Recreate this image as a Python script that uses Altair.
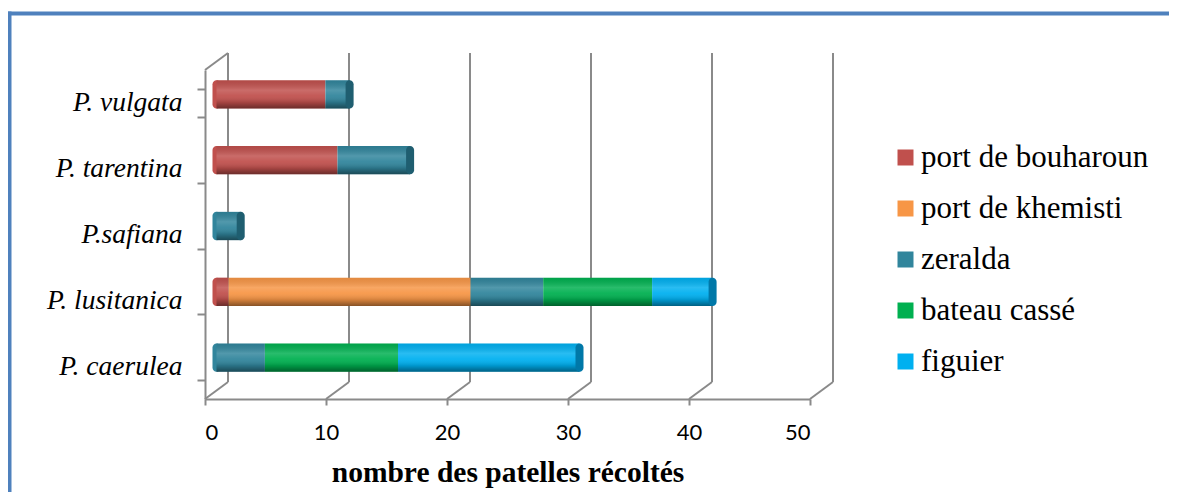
import altair as alt
import pandas as pd

# ---- data ----
categories = ["P. vulgata", "P. tarentina", "P.safiana", "P. lusitanica", "P. caerulea"]
series_names = ["port de bouharoun", "port de khemisti", "zeralda", "bateau cassé", "figuier"]
port_de_bouharoun = [9, 10, 0, 1, 0]
port_de_khemisti = [0, 0, 0, 20, 0]
zeralda = [2, 6, 2, 6, 4]
bateau_casse = [0, 0, 0, 9, 11]
figuier = [0, 0, 0, 5, 15]
x_ticks = [0, 10, 20, 30, 40, 50]

series_colors = ["#c0504d", "#f79646", "#31859c", "#00b050", "#00b0f0"]
cap_colors = ["#8c3a38", "#b86e30", "#1f5e70", "#007a3c", "#0078a8"]

series_values = [port_de_bouharoun, port_de_khemisti, zeralda, bateau_casse, figuier]

rows = []
tot_rows = []
for i, cat in enumerate(categories):
    first = None
    last = None
    total = 0
    for j, s in enumerate(series_names):
        v = series_values[j][i]
        if v > 0:
            rows.append({"cat": cat, "serie": s, "value": v, "ord": j})
            if first is None:
                first = s
            last = s
            total += v
    tot_rows.append({"cat": cat, "serie": first, "last": last, "total": total, "zero": 0})
df = pd.DataFrame(rows)
tot = pd.DataFrame(tot_rows)
ticks = pd.DataFrame({"t": x_ticks})
origin = pd.DataFrame({"t": [0]})

W, H = 605, 329
DX, DY = 11.5, -8.5   # half depth of the 3D floor
GRAY = "#8a8a8a"

xscale = alt.Scale(domain=[0, 50], nice=False, zero=True)
xaxis = alt.Axis(values=x_ticks, title="nombre des patelles récoltés", grid=False,
                 titleFont="Liberation Serif", titleFontWeight="bold", titleFontSize=29.5,
                 titleColor="black", titlePadding=15,
                 labelFont="Lato", labelFontSize=22, labelColor="black", labelPadding=17,
                 tickSize=6, tickColor=GRAY, tickWidth=2, domainColor=GRAY, domainWidth=2)
yscale = alt.Scale(domain=categories, paddingInner=0.57, paddingOuter=0.285)
yaxis = alt.Axis(title=None, grid=False, tickBand="extent", tickSize=8, tickColor=GRAY,
                 tickWidth=2, domainColor=GRAY, domainWidth=2,
                 labelFont="Liberation Serif", labelFontStyle="italic", labelFontSize=27.5,
                 labelColor="black", labelPadding=15)

X = lambda f: alt.X(f, scale=xscale, axis=xaxis)
Y = alt.Y("cat:N", scale=yscale, axis=yaxis, sort=categories)

# back wall gridlines
grid_back = alt.Chart(ticks).mark_rule(color=GRAY, strokeWidth=2, xOffset=2 * DX,
                                        yOffset=2 * DY, y2Offset=2 * DY).encode(
    x=X("t:Q"), y=alt.value(0), y2=alt.value(H))
# floor diagonals
diag = alt.Chart(ticks).mark_rule(color=GRAY, strokeWidth=2, x2Offset=2 * DX).encode(
    x=X("t:Q"), x2="t:Q", y=alt.value(H), y2=alt.value(H + 2 * DY))
# top-left diagonal of the side wall
diag_top = alt.Chart(origin).mark_rule(color=GRAY, strokeWidth=2, x2Offset=2 * DX).encode(
    x=X("t:Q"), x2="t:Q", y=alt.value(0), y2=alt.value(2 * DY))

# rounded start of each cylinder
left_cap = alt.Chart(tot).mark_bar(xOffset=DX - 4, x2Offset=DX + 4, yOffset=DY, y2Offset=DY,
                                   cornerRadius=4).encode(
    x=X("zero:Q"), x2="zero:Q", y=Y,
    color=alt.Color("serie:N", scale=alt.Scale(domain=series_names, range=series_colors),
                    legend=None))

bars = alt.Chart(df).mark_bar(xOffset=DX, x2Offset=DX, yOffset=DY, y2Offset=DY).encode(
    x=alt.X("value:Q", stack="zero", scale=xscale, axis=xaxis),
    y=Y,
    color=alt.Color("serie:N", scale=alt.Scale(domain=series_names, range=series_colors),
                    legend=alt.Legend(title=None, orient="none", legendX=685, legendY=72,
                                      padding=0, rowPadding=19, labelOffset=0,
                                      symbolType="square", symbolSize=256,
                                      symbolStrokeWidth=0, labelFont="Liberation Serif",
                                      labelFontSize=31, labelColor="black", labelLimit=400)),
    order=alt.Order("ord:Q"))

shade = alt.Gradient(gradient="linear", x1=0, y1=0, x2=0, y2=1, stops=[
    alt.GradientStop(color="rgba(0,0,0,0.08)", offset=0),
    alt.GradientStop(color="rgba(255,255,255,0.16)", offset=0.35),
    alt.GradientStop(color="rgba(255,255,255,0.06)", offset=0.55),
    alt.GradientStop(color="rgba(0,0,0,0.14)", offset=0.78),
    alt.GradientStop(color="rgba(0,0,0,0.45)", offset=1)])
overlay = alt.Chart(tot).mark_bar(color=shade, xOffset=DX, x2Offset=DX, yOffset=DY,
                                  y2Offset=DY).encode(x=X("zero:Q"), x2="total:Q", y=Y)

right_cap = alt.Chart(tot).mark_bar(xOffset=DX - 4, x2Offset=DX + 4, yOffset=DY, y2Offset=DY,
                                    cornerRadius=4).encode(
    x=X("total:Q"), x2="total:Q", y=Y,
    color=alt.Color("last:N", scale=alt.Scale(domain=series_names, range=cap_colors),
                    legend=None))

# blue frame of the picture
frame_top = alt.Chart(origin).mark_rule(color="#4f81bd", strokeWidth=4).encode(
    x=alt.value(-197), x2=alt.value(964), y=alt.value(-56.5))
frame_left = alt.Chart(origin).mark_rule(color="#4f81bd", strokeWidth=4).encode(
    x=alt.value(-195.5), y=alt.value(-58.5), y2=alt.value(430))

chart = alt.layer(frame_top, frame_left, grid_back, diag, diag_top, left_cap, bars, overlay,
                  right_cap).resolve_scale(color="independent").properties(
    width=W, height=H,
    autosize=alt.AutoSizeParams(type="none"),
    padding={"left": 197, "top": 62, "right": 359, "bottom": 93},
    background="white",
).configure_view(strokeOpacity=0)

chart.save("out.html", embed_options={"renderer": "svg", "actions": False})
